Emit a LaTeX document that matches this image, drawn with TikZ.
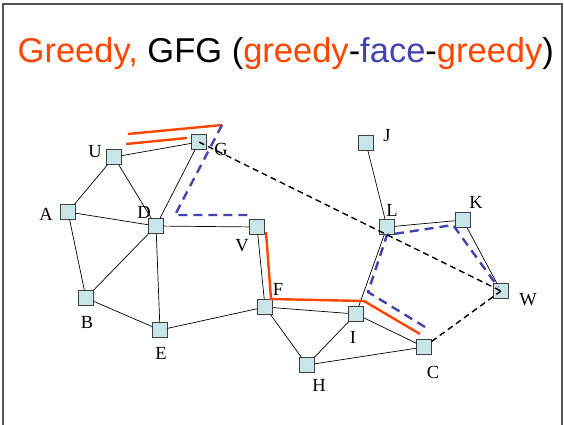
\documentclass[tikz,border=0pt]{standalone}
\usepackage{fontspec}
\setmainfont{Liberation Serif}
\newfontfamily\titlefont{Liberation Sans}
\definecolor{gfgorange}{RGB}{255,69,0}
\definecolor{gfgblue}{RGB}{68,68,176}
\definecolor{nodefill}{RGB}{200,230,232}
\definecolor{framegray}{RGB}{85,85,85}
\tikzset{
  vertex/.style={rectangle,draw=black!75,fill=nodefill,line width=0.8pt,
    minimum size=14.5pt,inner sep=0pt},
  lbl/.style={inner sep=0pt,font=\fontsize{18.5}{18.5}\selectfont},
  edge/.style={line width=0.7pt},
  greedy/.style={gfgorange,line width=2.4pt},
  face/.style={gfgblue,line width=2.4pt,dash pattern=on 9pt off 6pt},
  jump/.style={line width=1.4pt,dash pattern=on 6pt off 4pt}
}
\begin{document}
\begin{tikzpicture}[x=1pt,y=-1pt]
        \useasboundingbox (0,0) rectangle (564,424);
        \draw[framegray,line width=1.5pt] (3,430) -- (3,4) -- (562,4) -- (562,430);
        \node[anchor=base west,inner sep=0pt,font=\titlefont\fontsize{34.5}{34.5}\selectfont] (title) at (17.5,62)
        {\textcolor{gfgorange}{Greedy,} GFG (\textcolor{gfgorange}{greedy}-\textcolor{gfgblue}{face}-\textcolor{gfgorange}{greedy})};

        \draw (114,157) node[vertex] (U) {};
        \draw (199,142) node[vertex] (G) {};
        \draw (68,212) node[vertex] (A) {};
        \draw (156,226) node[vertex] (D) {};
        \draw (257,227) node[vertex] (V) {};
        \draw (86,298) node[vertex] (B) {};
        \draw (160,330) node[vertex] (E) {};
        \draw (265,307) node[vertex] (F) {};
        \draw (366,143) node[vertex] (J) {};
        \draw (387,227) node[vertex] (L) {};
        \draw (463,220) node[vertex] (K) {};
        \draw (501,291) node[vertex] (W) {};
        \draw (356,314) node[vertex] (I) {};
        \draw (424,347) node[vertex] (C) {};
        \draw (307,365) node[vertex] (H) {};

        \node[lbl] (lU) at (95,152) {U};
        \node[lbl] (lG) at (221,149) {G};
        \node[lbl] (lA) at (46,214) {A};
        \node[lbl] (lD) at (144,212) {D};
        \node[lbl] (lV) at (242,246) {V};
        \node[lbl] (lB) at (87,322) {B};
        \node[lbl] (lE) at (161,353) {E};
        \node[lbl] (lF) at (278,289) {F};
        \node[lbl] (lJ) at (387,136) {J};
        \node[lbl] (lL) at (392,210) {L};
        \node[lbl] (lK) at (476,202) {K};
        \node[lbl] (lW) at (528,300) {W};
        \node[lbl] (lI) at (353,337) {I};
        \node[lbl] (lC) at (433,372) {C};
        \node[lbl] (lH) at (319,385) {H};

        % graph edges
        \foreach \a/\b in {U/G,U/A,U/D,G/D,A/D,A/B,D/B,D/E,D/V,B/E,E/F,V/F,
                           F/I,F/H,I/H,I/C,H/C,I/L,J/L,L/K,K/W}
          \draw[edge] (\a) -- (\b);

        % greedy steps
        \coordinate (g1) at (128,134);
        \coordinate (g2) at (222,125);
        \coordinate (g3) at (126,144);
        \coordinate (g4) at (187,138);
        \draw[greedy] (g1) -- (g2);
        \draw[greedy] (g3) -- (g4);
        \coordinate (r1) at (266,232);
        \coordinate (r2) at (271,299);
        \coordinate (r3) at (364,301);
        \coordinate (r4) at (420,334);
        \draw[greedy] (r1) -- (r2) -- (r3) -- (r4);

        % face traversal
        \coordinate (f1) at (222,125);
        \coordinate (f2) at (175,215);
        \coordinate (f3) at (250,215);
        \draw[face] (f1) -- (f2) -- (f3);
        \coordinate (f4) at (425,327);
        \coordinate (f5) at (368,292);
        \coordinate (f6) at (387,235);
        \coordinate (f7) at (453,225);
        \coordinate (f8) at (498,287);
        \draw[face] (f4) -- (f5) -- (f6) -- (f7) -- (f8);

        % dashed links to W
        \draw[jump] (G.center) -- (W.center);
        \draw[jump] (C) -- (W.center);
\end{tikzpicture}
\end{document}
